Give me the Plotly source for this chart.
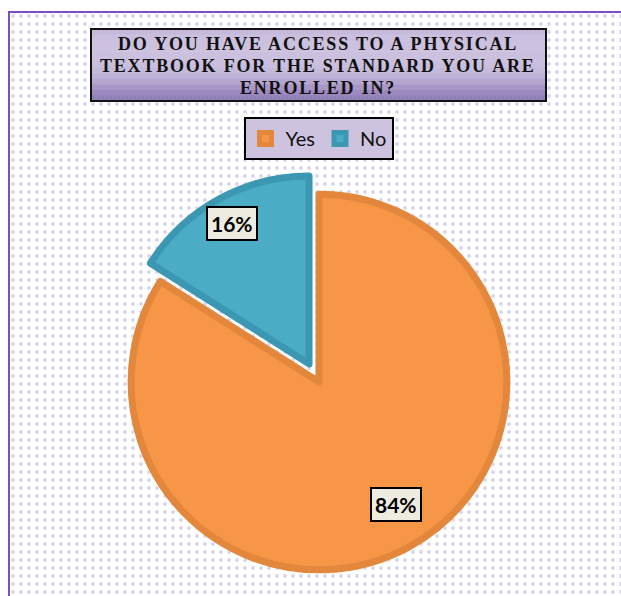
import math
import plotly.graph_objects as go

# ---- data ----
labels = ["Yes", "No"]
values = [84, 16]
pull = [0, 0.11]
slice_colors = ["#F79646", "#4BACC6"]
edge_colors = ["#E3873C", "#3C98B2"]
title_lines = ["DO YOU HAVE ACCESS TO A PHYSICAL",
               "TEXTBOOK FOR THE STANDARD YOU ARE",
               "ENROLLED IN?"]

W, H = 621, 596
half = 208.5
cx_px, cy_px = 319, 382
dom_x = [(cx_px - half) / W, (cx_px + half) / W]
dom_y = [1 - (cy_px + half) / H, 1 - (cy_px - half) / H]

fig = go.Figure()

# patterned background inside the frame
fig.add_trace(go.Bar(
    x=[0.5], y=[1], width=[1], xaxis="x", yaxis="y",
    marker=dict(color="#ffffff", line=dict(width=0),
                pattern=dict(shape=".", fgcolor="#b8b0d8", bgcolor="#ffffff",
                             size=8, solidity=0.2, fillmode="overlay")),
    showlegend=False, hoverinfo="skip"))

fig.add_trace(go.Pie(
    labels=labels, values=values, sort=False, direction="clockwise", rotation=0,
    pull=pull, domain=dict(x=dom_x, y=dom_y),
    marker=dict(colors=slice_colors, line=dict(color=edge_colors, width=7)),
    textinfo="none", hoverinfo="label+percent"))

# data label annotations derived from pie geometry
box_w = W * (dom_x[1] - dom_x[0])
box_h = H * (dom_y[1] - dom_y[0])
R = min(box_w, box_h) / (2 + 2 * max(pull))
cx = W * (dom_x[0] + dom_x[1]) / 2
cy = H * (1 - dom_y[0]) - box_h / 2
total = sum(values)
cum = 0
annotations = []
for lab, v, p in zip(labels, values, pull):
    mid = (cum + v / 2) / total * 2 * math.pi
    cum += v
    r = R * (0.85 + p)
    px = cx + r * math.sin(mid)
    py = cy - r * math.cos(mid)
    annotations.append(dict(
        x=px / W, y=1 - py / H, xref="paper", yref="paper",
        text="<b>%d%%</b>" % round(v / total * 100), showarrow=False,
        font=dict(family="Lato", size=21, color="#000000"),
        bgcolor="#EEECE1", bordercolor="#000000", borderwidth=2, borderpad=3))

# title text
for i, line in enumerate(title_lines):
    annotations.append(dict(
        x=318.5 / W, y=1 - (44 + 22 * i) / H, xref="paper", yref="paper",
        xanchor="center", yanchor="middle", showarrow=False,
        text='<b><span style="letter-spacing:1.8px">%s</span></b>' % line,
        font=dict(family="Liberation Serif", size=18, color="#111111")))

def px_rect(x0, y0, x1, y1, **kw):
    return dict(type="rect", xref="paper", yref="paper",
                x0=x0 / W, x1=x1 / W, y0=1 - y0 / H, y1=1 - y1 / H, **kw)

shapes = []
# title box with approximate vertical gradient
grad = ["#C6BADB", "#CABFDE", "#CCC2DF", "#CCC2DF", "#CBC1DF", "#CBC1DF",
        "#C9BEDD", "#C6BADB", "#BFB2D7", "#B5A6D0", "#A997C8", "#9C89BF",
        "#9280B9"]
y_start, y_end = 29, 101
step = (y_end - y_start) / len(grad)
for k, c in enumerate(grad):
    y0 = y_start + k * step
    shapes.append(px_rect(91, y0, 546, y0 + step + 0.6, fillcolor=c,
                          line=dict(width=0), layer="above"))
shapes.append(px_rect(91, 29, 546, 101, fillcolor="rgba(0,0,0,0)",
                      line=dict(color="#111111", width=2), layer="above"))
# outer frame (left and top edges visible)
shapes.append(px_rect(9, 12, 640, 620, fillcolor="rgba(0,0,0,0)",
                      line=dict(color="#7E4EC0", width=2), layer="above"))

fig.update_layout(
    width=W, height=H, margin=dict(l=0, r=0, t=0, b=0),
    paper_bgcolor="#ffffff", plot_bgcolor="rgba(0,0,0,0)",
    xaxis=dict(domain=[9 / W, 1], range=[0, 1], visible=False, fixedrange=True),
    yaxis=dict(domain=[0, 1 - 12 / H], range=[0, 1], visible=False, fixedrange=True),
    bargap=0,
    showlegend=True,
    legend=dict(orientation="h", x=318.5 / W, y=1 - 117 / H, xanchor="center",
                yanchor="top", bgcolor="#CDC3DF", bordercolor="#000000",
                borderwidth=2, font=dict(family="Lato", size=20, color="#111111"),
                itemwidth=30, tracegroupgap=0),
    annotations=annotations, shapes=shapes)

fig.write_html("out.html")
